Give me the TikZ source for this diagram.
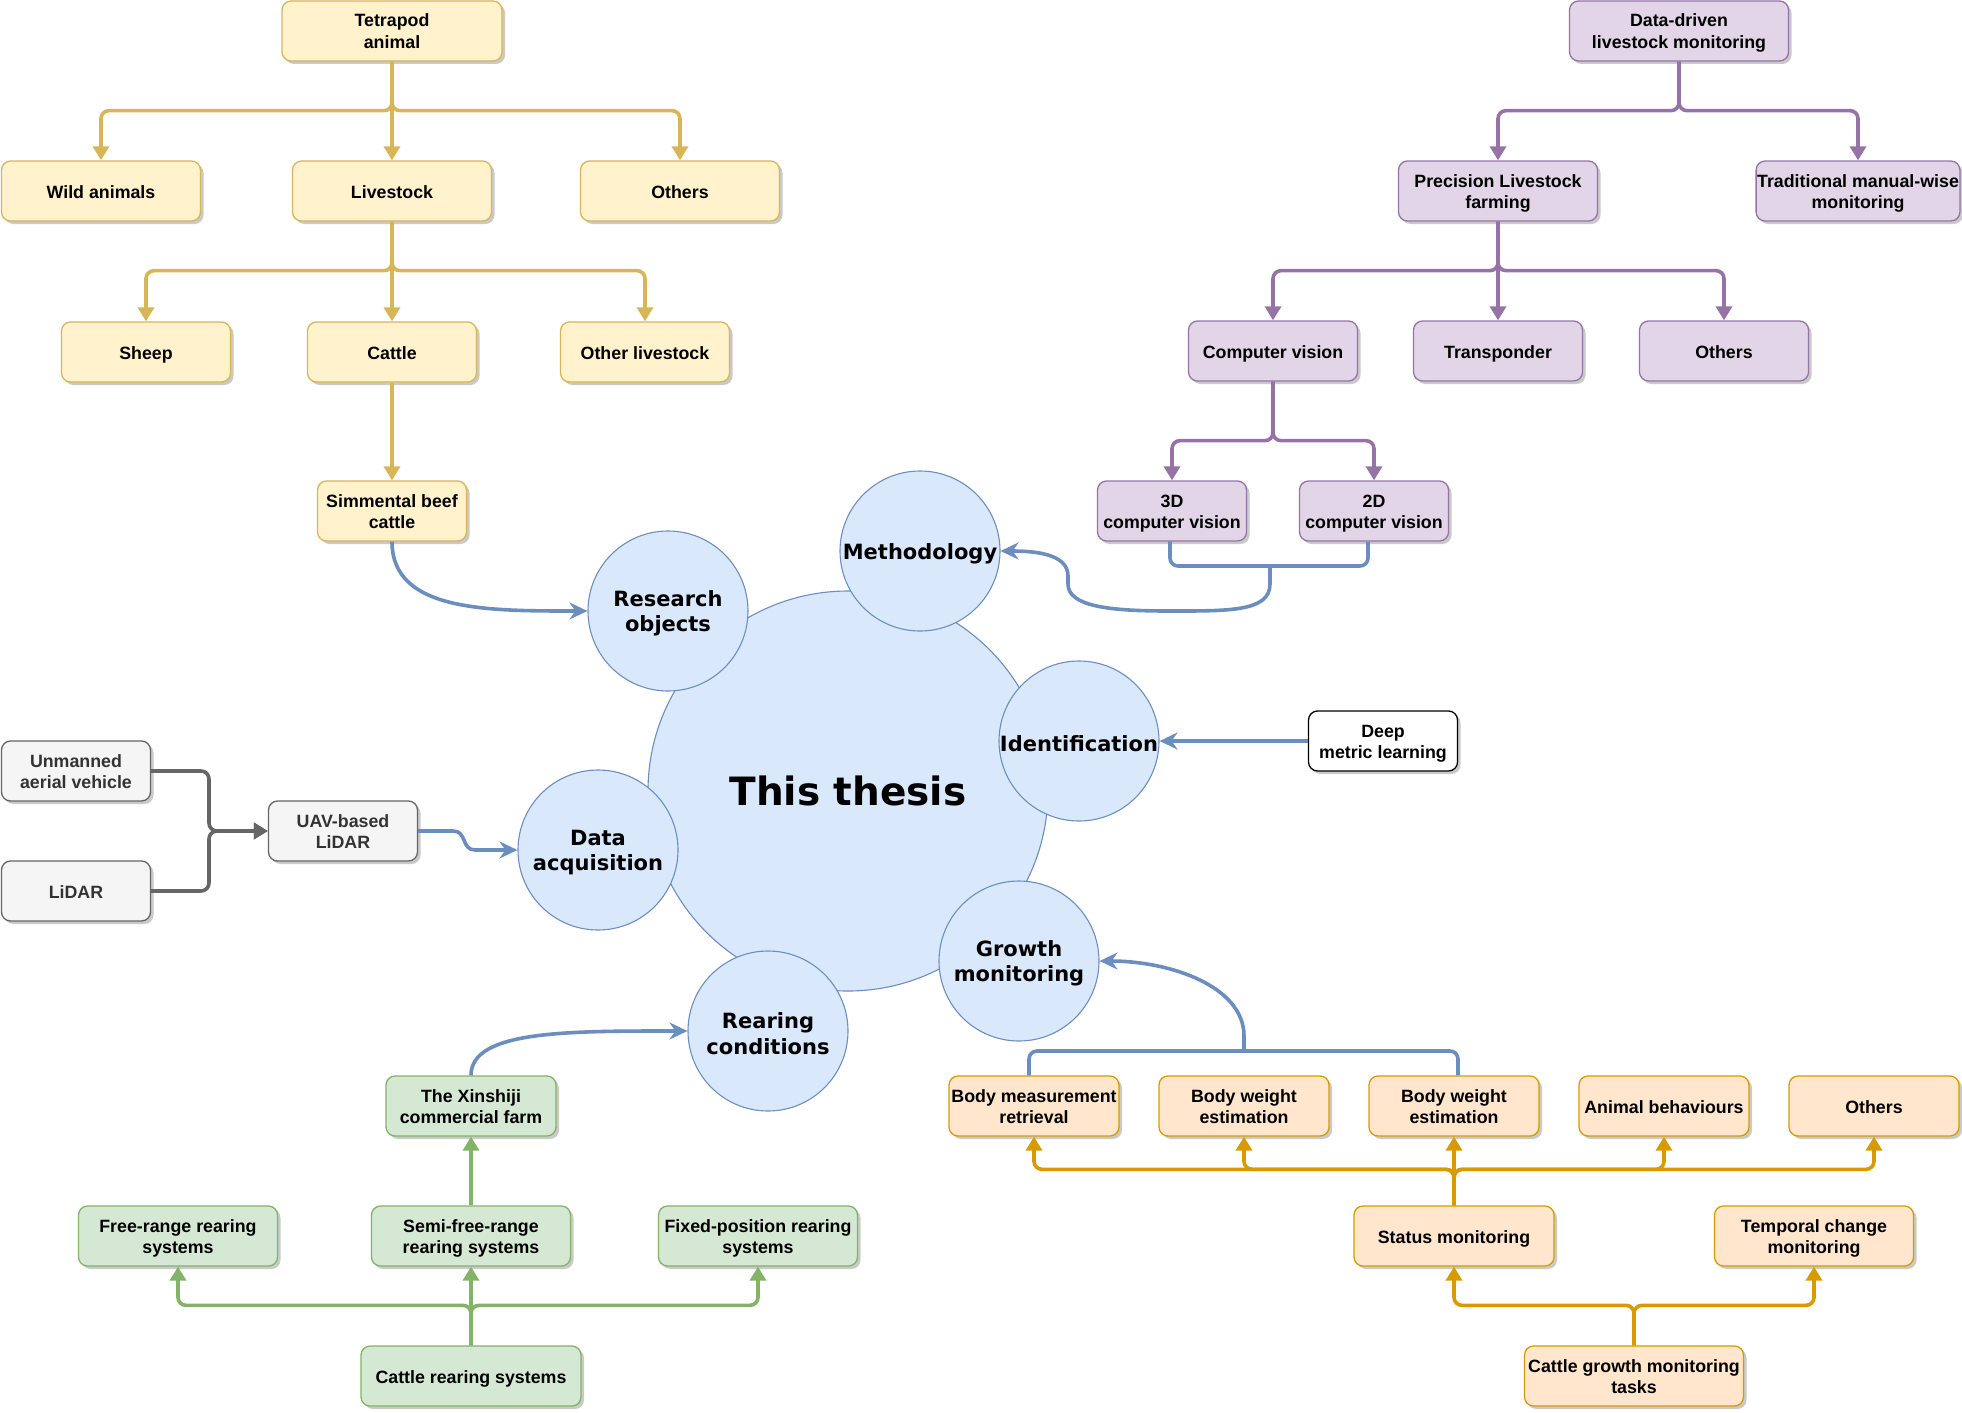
\documentclass[tikz,border=0pt]{standalone}
\usepackage{fontspec}
\setmainfont{Liberation Sans}
\newfontfamily\dvb{DejaVu Sans}
\usetikzlibrary{arrows.meta,shadows}
\definecolor{yfill}{HTML}{FFF2CC}\definecolor{ydraw}{HTML}{D6B656}
\definecolor{pfill}{HTML}{E1D5E7}\definecolor{pdraw}{HTML}{9673A6}
\definecolor{bfill}{HTML}{DAE8FC}\definecolor{bdraw}{HTML}{6C8EBF}
\definecolor{gfill}{HTML}{D5E8D4}\definecolor{gdraw}{HTML}{82B366}
\definecolor{ofill}{HTML}{FFE6CC}\definecolor{odraw}{HTML}{D79B00}
\definecolor{sfill}{HTML}{F5F5F5}\definecolor{sdraw}{HTML}{666666}\definecolor{stext}{HTML}{333333}
\tikzset{
  box/.style={rectangle, rounded corners=9pt, minimum height=60pt, inner xsep=1pt, inner ysep=0pt,
    line width=1.3pt, align=center, font=\bfseries\fontsize{17.8}{21.5}\selectfont,
    execute at begin node={\rule{0pt}{18.5pt}},
    execute at end node={\rule[-4pt]{0pt}{4pt}},
    drop shadow={shadow xshift=3pt, shadow yshift=-3pt, fill=black!35, opacity=0.6}},
  tl/.style={text height=39pt, text depth=4pt},
  ybox/.style={box, fill=yfill, draw=ydraw},
  pbox/.style={box, fill=pfill, draw=pdraw},
  grbox/.style={box, fill=gfill, draw=gdraw},
  obox/.style={box, fill=ofill, draw=odraw},
  sbox/.style={box, fill=sfill, draw=sdraw, text=stext},
  wbox/.style={box, fill=white, draw=black},
  circ/.style={circle, minimum size=160pt, inner sep=0pt, fill=bfill, draw=bdraw, line width=1.1pt},
  ctext/.style={align=center, inner sep=0pt, yshift=-2.5pt, font=\dvb\bfseries\fontsize{21}{25.5}\selectfont},
  ttext/.style={align=center, inner sep=0pt, font=\dvb\bfseries\fontsize{39}{46}\selectfont},
  tri/.style={-{Triangle[length=14pt,width=16pt]}},
  yl/.style={draw=ydraw, line width=3.6pt, rounded corners=8pt, tri},
  pl/.style={draw=pdraw, line width=3.6pt, rounded corners=8pt, tri},
  grl/.style={draw=gdraw, line width=3.6pt, rounded corners=8pt, tri},
  ol/.style={draw=odraw, line width=3.6pt, rounded corners=8pt, tri},
  sl/.style={draw=sdraw, line width=3.6pt, rounded corners=8pt, tri},
  bl/.style={draw=bdraw, line width=3.6pt, -{Stealth[length=18pt,width=17pt,inset=6pt]}},
  blb/.style={draw=bdraw, line width=3.6pt, rounded corners=8pt},
}
\begin{document}
\begin{tikzpicture}[x=1pt,y=-1pt]
\useasboundingbox (0,0) rectangle (1962,1413);

% circles
\node[circ, minimum size=400pt] (thesis) at (848,791) {};
\node[ttext] (thesist) at (thesis) {This thesis};
\node[circ] (ro) at (668,611) {};
\node[ctext] (rot) at (ro) {Research\\objects};
\node[circ] (meth) at (920,551) {};
\node[ctext] (metht) at (meth) {Methodology};
\node[circ] (id) at (1079,741) {};
\node[ctext] (idt) at (id) {Identification};
\node[circ] (da) at (598,850) {};
\node[ctext] (dat) at (da) {Data\\acquisition};
\node[circ] (gm) at (1019,961) {};
\node[ctext] (gmt) at (gm) {Growth\\monitoring};
\node[circ] (rc) at (768,1031) {};
\node[ctext] (rct) at (rc) {Rearing\\conditions};

% yellow tree
\node[ybox, tl, minimum width=220pt] (tet) at (392,31) {Tetrapod\\animal};
\node[ybox, minimum width=199pt] (wild) at (101,191) {Wild animals};
\node[ybox, minimum width=199pt] (live) at (392,191) {Livestock};
\node[ybox, minimum width=199pt] (oth1) at (680,191) {Others};
\node[ybox, minimum width=169pt] (sheep) at (146,352) {Sheep};
\node[ybox, minimum width=169pt] (cattle) at (392,352) {Cattle};
\node[ybox, minimum width=169pt] (othl) at (645,352) {Other livestock};
\node[ybox, tl, minimum width=149pt] (sim) at (392,511) {Simmental beef\\cattle};

% purple tree
\node[pbox, tl, minimum width=219pt] (dd) at (1679,31) {Data-driven\\livestock monitoring};
\node[pbox, tl, minimum width=199pt] (plf) at (1498,191) {Precision Livestock\\farming};
\node[pbox, tl, minimum width=200pt] (trad) at (1858,191) {Traditional manual-wise\\monitoring};
\node[pbox, minimum width=169pt] (cv) at (1273,351) {Computer vision};
\node[pbox, minimum width=169pt] (trans) at (1498,351) {Transponder};
\node[pbox, minimum width=169pt] (oth2) at (1724,351) {Others};
\node[pbox, tl, minimum width=149pt] (v3) at (1172,511) {3D\\computer vision};
\node[pbox, tl, minimum width=149pt] (v2) at (1374,511) {2D\\computer vision};

% gray
\node[sbox, tl, minimum width=149pt] (uav) at (76,771) {Unmanned\\aerial vehicle};
\node[sbox, minimum width=149pt] (lidar) at (76,891) {LiDAR};
\node[sbox, tl, minimum width=149pt] (uavl) at (343,831) {UAV-based\\LiDAR};

% deep metric
\node[wbox, tl, minimum width=149pt] (dml) at (1383,741) {Deep\\metric learning};

% green
\node[grbox, tl, minimum width=170pt] (xin) at (471,1106) {The Xinshiji\\commercial farm};
\node[grbox, tl, minimum width=199pt] (free) at (178,1236) {Free-range rearing\\systems};
\node[grbox, tl, minimum width=199pt] (semi) at (471,1236) {Semi-free-range\\rearing systems};
\node[grbox, tl, minimum width=199pt] (fixed) at (758,1236) {Fixed-position rearing\\systems};
\node[grbox, minimum width=220pt] (crs) at (471,1376) {Cattle rearing systems};

% orange
\node[obox, tl, minimum width=170pt] (bmr) at (1034,1106) {Body measurement\\retrieval};
\node[obox, tl, minimum width=170pt] (bw1) at (1244,1106) {Body weight\\estimation};
\node[obox, tl, minimum width=170pt] (bw2) at (1454,1106) {Body weight\\estimation};
\node[obox, minimum width=170pt] (ab) at (1664,1106) {Animal behaviours};
\node[obox, minimum width=170pt] (oth3) at (1874,1106) {Others};
\node[obox, minimum width=200pt] (stat) at (1454,1236) {Status monitoring};
\node[obox, tl, minimum width=199pt] (temp) at (1814,1236) {Temporal change\\monitoring};
\node[obox, tl, minimum width=219pt] (cgm) at (1634,1376) {Cattle growth monitoring\\tasks};

% yellow connectors
\draw[yl] (tet.south) -- ++(0,49) -| (wild.north);
\draw[yl] (tet.south) -- (live.north);
\draw[yl] (tet.south) -- ++(0,49) -| (oth1.north);
\draw[yl] (live.south) -- ++(0,49) -| (sheep.north);
\draw[yl] (live.south) -- (cattle.north);
\draw[yl] (live.south) -- ++(0,49) -| (othl.north);
\draw[yl] (cattle.south) -- (sim.north);

% purple connectors
\draw[pl] (dd.south) -- ++(0,49) -| (plf.north);
\draw[pl] (dd.south) -- ++(0,49) -| (trad.north);
\draw[pl] (plf.south) -- ++(0,49) -| (cv.north);
\draw[pl] (plf.south) -- (trans.north);
\draw[pl] (plf.south) -- ++(0,49) -| (oth2.north);
\draw[pl] (cv.south) -- ++(0,59) -| (v3.north);
\draw[pl] (cv.south) -- ++(0,59) -| (v2.north);

% gray connectors
\coordinate (gj) at (209,831);
\draw[sl] (uav.east) -| (gj) -- (uavl.west);
\draw[sl] (lidar.east) -| (gj) -- (uavl.west);

% green connectors
\draw[grl] (crs.north) -- ++(0,-40) -| (free.south);
\draw[grl] (crs.north) -- (semi.south);
\draw[grl] (crs.north) -- ++(0,-40) -| (fixed.south);
\draw[grl] (semi.north) -- (xin.south);

% orange connectors
\draw[ol] (stat.north) -- ++(0,-36) -| (bmr.south);
\draw[ol] (stat.north) -- ++(0,-36) -| (bw1.south);
\draw[ol] (stat.north) -- (bw2.south);
\draw[ol] (stat.north) -- ++(0,-36) -| (ab.south);
\draw[ol] (stat.north) -- ++(0,-36) -| (oth3.south);
\draw[ol] (cgm.north) -- ++(0,-40) -| (stat.south);
\draw[ol] (cgm.north) -- ++(0,-40) -| (temp.south);

% blue connectors
\draw[bl] (sim.south) .. controls +(0,70) and +(-100,0) .. (ro.west);
\coordinate (mj) at (1270,566);
\draw[blb] ([xshift=-2pt]v3.south) |- (mj);
\draw[blb] ([xshift=-6pt]v2.south) |- (mj);
\draw[bl] (mj) -- ++(0,18) .. controls +(0,28) and +(60,0) .. (1168,611)
  .. controls +(-60,0) and +(0,22) .. (1068,584) -- ++(0,-8)
  .. controls +(0,-22) and +(35,0) .. (meth.east);
\draw[bl] (dml.west) -- (id.east);
\draw[bl] (uavl.east) -- ++(35,0) .. controls +(14,0) and +(-14,0) .. ++(22,19) -- (da.west);
\draw[bl] (xin.north) .. controls +(0,-45) and +(-120,0) .. (rc.west);
\coordinate (gj2) at (1244,1051);
\draw[blb] ([xshift=-5pt]bmr.north) |- (gj2);
\draw[blb] ([xshift=4pt]bw2.north) |- (gj2);
\draw[bl] (gj2) -- ++(0,-15) .. controls +(0,-50) and +(70,0) .. (gm.east);
\end{tikzpicture}
\end{document}
